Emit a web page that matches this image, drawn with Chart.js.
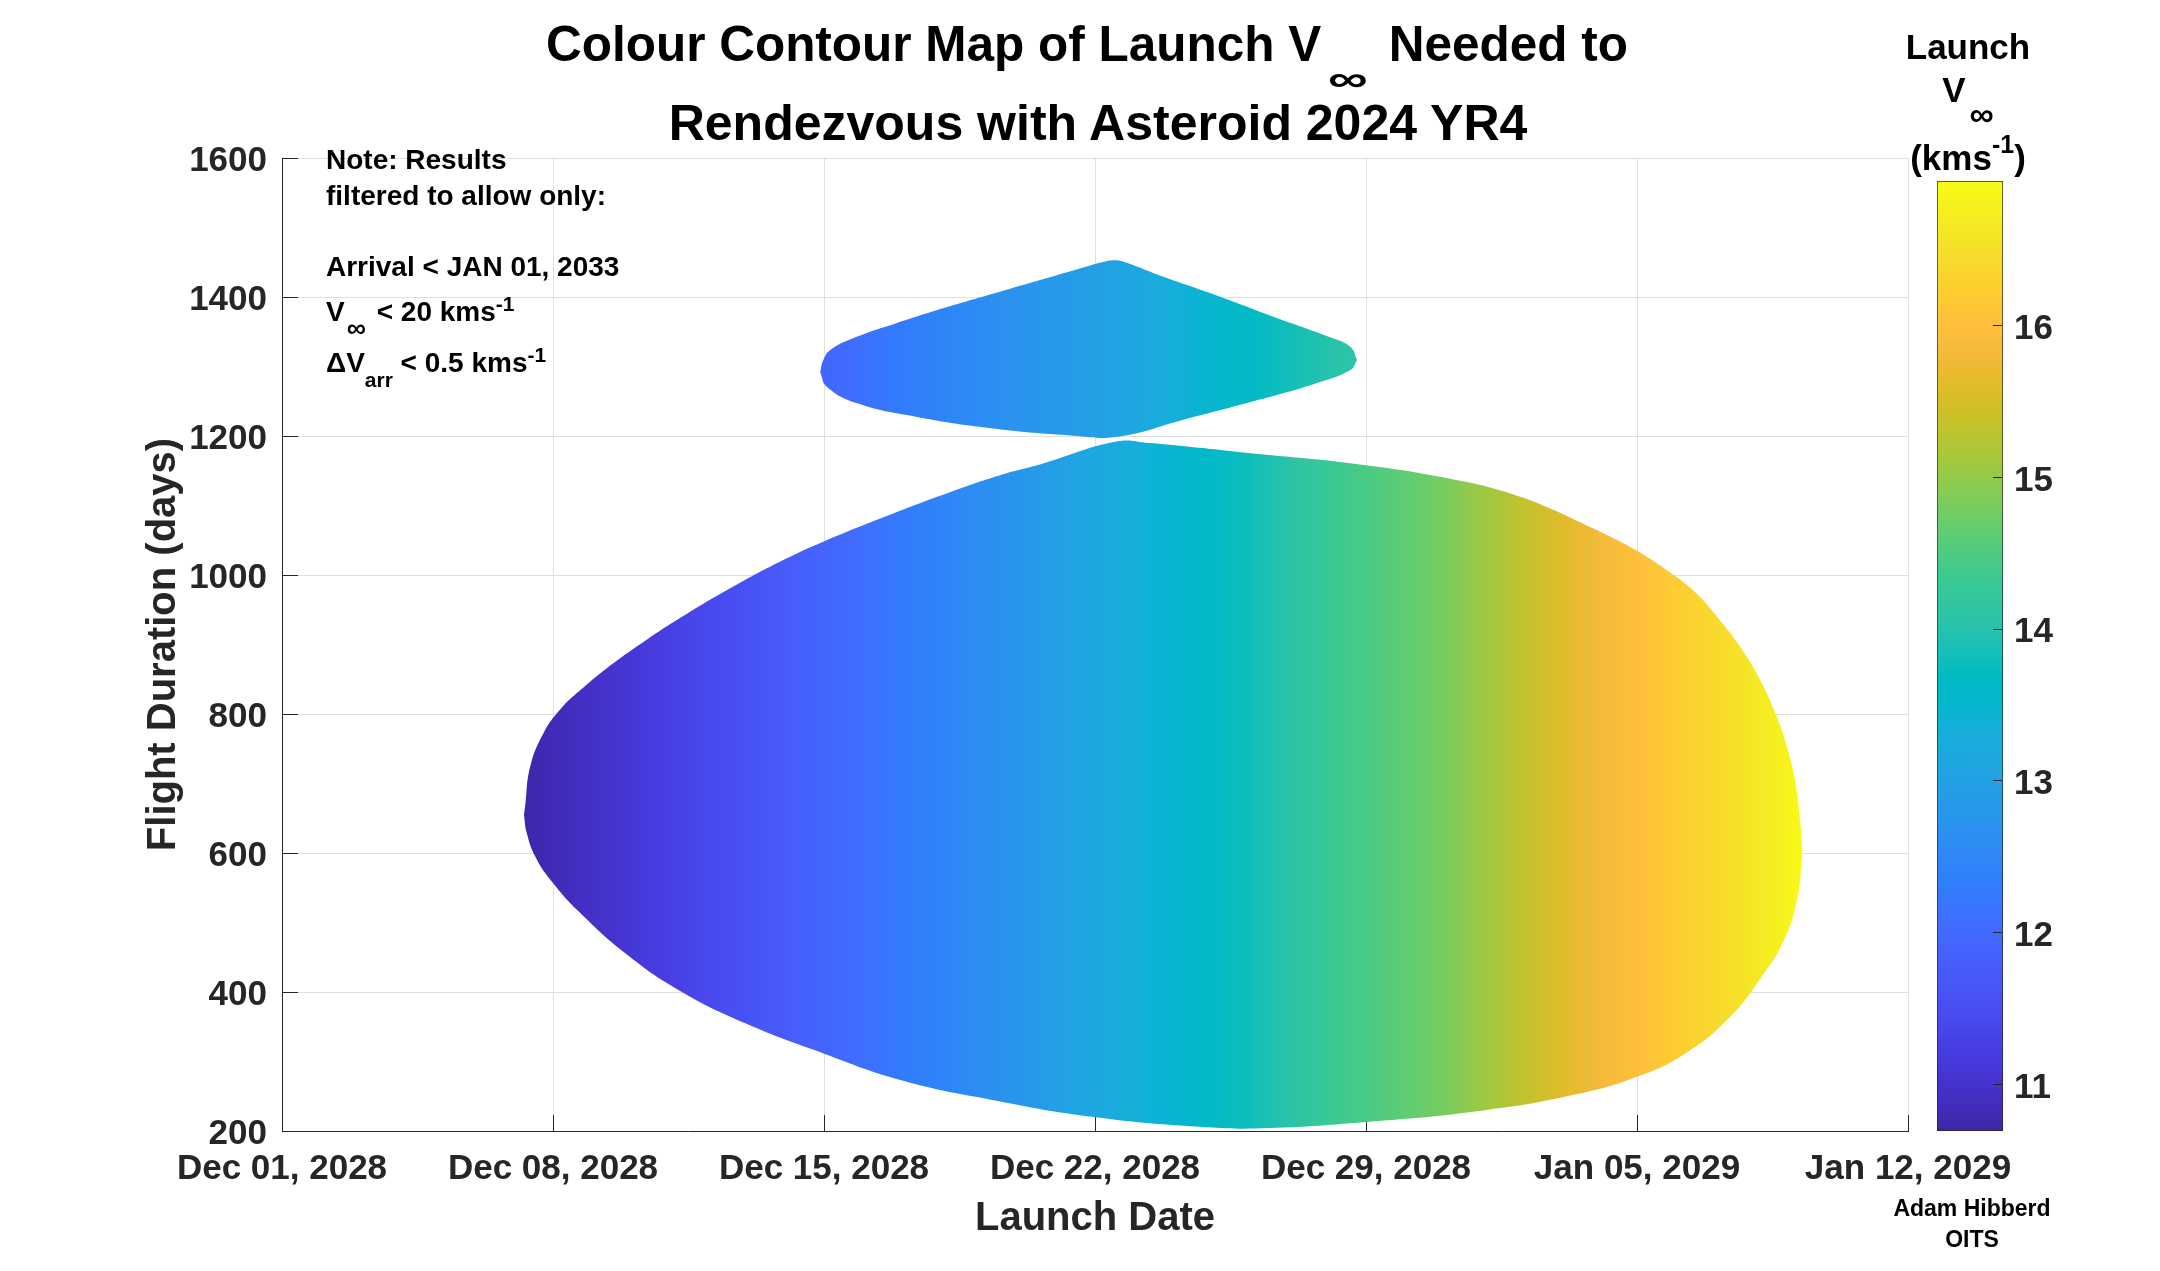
<!DOCTYPE html>
<html><head><meta charset="utf-8">
<script src="https://cdn.jsdelivr.net/npm/chart.js@4.4.1/dist/chart.umd.min.js"></script>
<style>
html,body{margin:0;padding:0;background:#fff;}
body{width:2160px;height:1271px;position:relative;overflow:hidden;font-family:"Liberation Sans",Arial,Helvetica,sans-serif;font-weight:bold;}
.t{position:absolute;white-space:nowrap;line-height:1;color:#000;}
.sub,.sup{position:relative;}
canvas{position:absolute;}
</style></head><body>
<canvas id="main" width="2160" height="1271" style="left:0;top:0"></canvas>
<canvas id="cbar" width="240" height="970" style="left:1920px;top:170px"></canvas>

<div class="t" style="left:487px;width:1200px;text-align:center;top:19px;font-size:49.5px;">Colour Contour Map of Launch V<span class="sub" style="display:inline-block;font-size:36px;top:30px;margin-left:14px;margin-right:14px;transform:scaleX(1.55);">∞</span> Needed to</div>
<div class="t" style="left:498px;width:1200px;text-align:center;top:98px;font-size:50px;">Rendezvous with Asteroid 2024 YR4</div>

<div class="t" style="left:326px;top:146.3px;font-size:28px;">Note: Results</div>
<div class="t" style="left:326px;top:182.3px;font-size:28px;">filtered to allow only:</div>
<div class="t" style="left:326px;top:253.3px;font-size:28px;">Arrival &lt; JAN 01, 2033</div>
<div class="t" style="left:326px;top:298.3px;font-size:28px;">V<span class="sub" style="font-size:27px;top:16px;margin-left:2px;margin-right:3px;">∞</span> &lt; 20 kms<span class="sup" style="font-size:21px;top:-10px;">-1</span></div>
<div class="t" style="left:326px;top:349.3px;font-size:28px;">ΔV<span class="sub" style="font-size:21px;top:15px;">arr</span> &lt; 0.5 kms<span class="sup" style="font-size:21px;top:-10px;">-1</span></div>

<div class="t" style="left:1818px;width:300px;text-align:center;top:29.4px;font-size:35px;">Launch</div>
<div class="t" style="left:1818px;width:300px;text-align:center;top:72.1px;font-size:35px;">V<span class="sub" style="font-size:34px;top:24px;margin-left:4px;">∞</span></div>
<div class="t" style="left:1818px;width:300px;text-align:center;top:140.4px;font-size:35px;">(kms<span class="sup" style="font-size:25px;top:-17px;">-1</span>)</div>

<div class="t" style="left:1822px;width:300px;text-align:center;top:1196.5px;font-size:23px;">Adam Hibberd</div>
<div class="t" style="left:1822px;width:300px;text-align:center;top:1227.5px;font-size:23px;">OITS</div>

<script>
// ---------------- data ----------------
// x values are launch days counted from Dec 01, 2028; y values are flight durations (days)
const xTickLabels = ['Dec 01, 2028','Dec 08, 2028','Dec 15, 2028','Dec 22, 2028','Dec 29, 2028','Jan 05, 2029','Jan 12, 2029'];
const xMin = 0, xMax = 42, xStep = 7;
const yMin = 200, yMax = 1600, yStep = 200;

// main feasible region: upper and lower boundaries
const mainUpperDays = [6.25, 6.28, 6.41, 6.75, 7.18, 7.70, 8.39, 9.42, 10.45, 11.74, 13.04, 13.98, 15.62, 17.34, 18.63, 19.58, 21.55, 22.4, 23.7, 24.7, 28.0, 30.5, 31.81, 32.67, 33.53, 34.39, 35.0, 35.77, 36.45, 37.14, 37.66, 38.18, 38.61, 38.87, 39.08, 39.21, 39.28];
const mainUpperDur  = [655, 667, 724, 772, 806, 834, 866, 907, 944, 986, 1024, 1048, 1085, 1121, 1145, 1159, 1192, 1190, 1183, 1177, 1158, 1135, 1116, 1098, 1076, 1053, 1035, 1007, 978, 935, 897, 849, 796, 753, 705, 648, 600];
const mainLowerDays = [6.25, 6.32, 6.55, 7.0, 7.7, 8.86, 10.24, 11.97, 13.97, 16.0, 18.31, 20.97, 23.7, 25.3, 28.0, 31.07, 33.37, 35.0, 36.26, 37.4, 38.22, 38.8, 39.13, 39.28];
const mainLowerDur  = [655, 629, 594, 557, 514, 456, 403, 355, 312, 273, 245, 220, 206, 204, 213, 230, 252, 278, 312, 364, 422, 475, 532, 600];

// smaller (longer-duration) feasible region
const smallUpperDays = [13.9, 13.98, 14.17, 14.86, 15.85, 17.33, 18.81, 20.3, 21.18, 21.5, 21.78, 22.77, 24.25, 25.73, 27.02, 27.6, 27.77];
const smallUpperDur  = [1292, 1309, 1324, 1343, 1362, 1388, 1412, 1436, 1450, 1453, 1450, 1429, 1400, 1369, 1343, 1328, 1309];
const smallLowerDays = [13.9, 14.07, 14.86, 16.34, 18.32, 20.3, 21.58, 23.26, 25.23, 26.72, 27.6, 27.77];
const smallLowerDur  = [1292, 1271, 1247, 1228, 1211, 1201, 1199, 1223, 1252, 1276, 1295, 1309];

// launch V-infinity (km/s) across launch date
const mainColourDays = [6.25, 7, 8, 9, 10, 11, 12, 13, 14, 15, 16, 17, 18, 19, 20, 21, 22, 23, 24, 25, 26, 27, 28, 29, 30, 31, 32, 33, 34, 35, 36, 37, 38, 39, 39.28];
const mainVinf       = [10.69, 10.8, 10.95, 11.1, 11.25, 11.42, 11.58, 11.75, 11.92, 12.08, 12.25, 12.42, 12.6, 12.75, 12.95, 13.15, 13.32, 13.48, 13.62, 13.8, 14.05, 14.28, 14.46, 14.62, 14.8, 15.05, 15.32, 15.58, 15.8, 15.98, 16.2, 16.4, 16.62, 16.85, 16.95];
const smallColourDays = [13.9, 15, 16, 17, 18, 19, 20, 21, 22, 23, 24, 25, 26, 27, 27.77];
const smallVinf       = [11.9, 12.1, 12.28, 12.43, 12.57, 12.7, 12.83, 12.96, 13.12, 13.3, 13.5, 13.65, 13.82, 14.0, 14.12];

// colour bar
const cbMin = 10.69, cbMax = 16.95;
const cbTicks = [11, 12, 13, 14, 15, 16];

// ---------------- parula colour map ----------------
const parula = [[0.2422,0.1504,0.6603],[0.2504,0.1650,0.7076],[0.2578,0.1818,0.7511],[0.2647,0.1978,0.7952],[0.2706,0.2147,0.8364],[0.2751,0.2342,0.8710],[0.2783,0.2559,0.8991],[0.2803,0.2782,0.9221],[0.2813,0.3006,0.9414],[0.2810,0.3228,0.9579],[0.2795,0.3447,0.9717],[0.2760,0.3667,0.9829],[0.2699,0.3892,0.9906],[0.2602,0.4123,0.9952],[0.2440,0.4358,0.9988],[0.2206,0.4603,0.9973],[0.1963,0.4847,0.9892],[0.1834,0.5074,0.9798],[0.1786,0.5289,0.9682],[0.1764,0.5499,0.9520],[0.1687,0.5703,0.9359],[0.1540,0.5902,0.9218],[0.1460,0.6091,0.9079],[0.1380,0.6276,0.8973],[0.1248,0.6459,0.8883],[0.1113,0.6635,0.8763],[0.0952,0.6798,0.8598],[0.0689,0.6948,0.8394],[0.0297,0.7082,0.8163],[0.0036,0.7203,0.7917],[0.0067,0.7312,0.7660],[0.0433,0.7411,0.7394],[0.0964,0.7500,0.7120],[0.1408,0.7584,0.6842],[0.1717,0.7670,0.6554],[0.1938,0.7758,0.6251],[0.2161,0.7843,0.5923],[0.2470,0.7918,0.5567],[0.2906,0.7973,0.5188],[0.3406,0.8008,0.4789],[0.3909,0.8029,0.4354],[0.4456,0.8024,0.3909],[0.5044,0.7993,0.3480],[0.5616,0.7942,0.3045],[0.6174,0.7876,0.2612],[0.6720,0.7793,0.2227],[0.7242,0.7698,0.1910],[0.7738,0.7598,0.1646],[0.8203,0.7498,0.1535],[0.8634,0.7406,0.1596],[0.9035,0.7330,0.1774],[0.9393,0.7288,0.2100],[0.9728,0.7298,0.2394],[0.9956,0.7434,0.2371],[0.9970,0.7659,0.2199],[0.9952,0.7893,0.2028],[0.9892,0.8136,0.1885],[0.9786,0.8386,0.1766],[0.9676,0.8639,0.1643],[0.9610,0.8890,0.1537],[0.9597,0.9135,0.1423],[0.9628,0.9373,0.1265],[0.9691,0.9606,0.1064],[0.9769,0.9839,0.0805]];
function rgbOf(c){ return 'rgb(' + c.map(k => Math.round(255*k)).join(',') + ')'; }
function parulaColour(v){
  let t = (v - cbMin) / (cbMax - cbMin); t = Math.max(0, Math.min(1, t));
  const f = t * (parula.length - 1);
  const i = Math.min(Math.floor(f), parula.length - 2), u = f - i;
  return rgbOf([0,1,2].map(k => parula[i][k] + (parula[i+1][k] - parula[i][k]) * u));
}
function hGradient(chart, days, vals){
  const xs = chart.scales.x;
  const x0 = xs.getPixelForValue(days[0]), x1 = xs.getPixelForValue(days[days.length-1]);
  const g = chart.ctx.createLinearGradient(x0, 0, x1, 0);
  days.forEach((d, i) => g.addColorStop(Math.max(0, Math.min(1, (xs.getPixelForValue(d) - x0) / (x1 - x0))), parulaColour(vals[i])));
  return g;
}
function pts(xs, ys){ return xs.map((x, i) => ({x: x, y: ys[i]})); }

const FONT = '"Liberation Sans", Arial, Helvetica, sans-serif';
const AXIS = '#262626';

const inwardTicks = {
  id: 'inwardTicks',
  beforeDatasetsDraw(chart){
    const {ctx, chartArea: a, scales: {x, y}} = chart;
    ctx.save(); ctx.strokeStyle = AXIS; ctx.lineWidth = 1; ctx.beginPath();
    x.ticks.forEach(t => { const p = Math.round(x.getPixelForValue(t.value)) + 0.5; ctx.moveTo(p, a.bottom); ctx.lineTo(p, a.bottom - 16); });
    y.ticks.forEach(t => { const p = Math.round(y.getPixelForValue(t.value)) + 0.5; ctx.moveTo(a.left, p); ctx.lineTo(a.left + 16, p); });
    ctx.stroke(); ctx.restore();
  }
};

function region(upX, upY, loX, loY, cDays, cVals){
  const bg = (ctx) => { const c = ctx.chart; if (!c.chartArea || !c.scales.x) return 'rgba(0,0,0,0)'; return hGradient(c, cDays, cVals); };
  return [
    {data: pts(upX, upY), fill: '+1', backgroundColor: bg, borderColor: 'rgba(0,0,0,0)', borderWidth: 0, pointRadius: 0, pointHoverRadius: 0, tension: 0.45},
    {data: pts(loX, loY), fill: false, backgroundColor: 'rgba(0,0,0,0)', borderColor: 'rgba(0,0,0,0)', borderWidth: 0, pointRadius: 0, pointHoverRadius: 0, tension: 0.45}
  ];
}

new Chart(document.getElementById('main'), {
  type: 'line',
  data: { datasets: [
    ...region(mainUpperDays, mainUpperDur, mainLowerDays, mainLowerDur, mainColourDays, mainVinf),
    ...region(smallUpperDays, smallUpperDur, smallLowerDays, smallLowerDur, smallColourDays, smallVinf)
  ]},
  options: {
    responsive: false, devicePixelRatio: 1, animation: false, events: [],
    layout: { padding: { left: 0, right: 252, top: 158, bottom: 0 } },
    plugins: { legend: { display: false }, tooltip: { enabled: false }, title: { display: false } },
    scales: {
      x: {
        type: 'linear', min: xMin, max: xMax,
        afterFit(s){ s.height = 140; s.paddingLeft = 0; s.paddingRight = 0; },
        ticks: { stepSize: xStep, autoSkip: false, maxRotation: 0, padding: 17, color: AXIS,
                 font: { family: FONT, size: 35, weight: 'bold' },
                 callback: (v) => xTickLabels[Math.round((v - xMin) / xStep)] },
        grid: { color: '#dfdfdf', lineWidth: 1, drawTicks: false },
        border: { color: AXIS, width: 1 },
        title: { display: true, text: 'Launch Date', color: AXIS, font: { family: FONT, size: 40, weight: 'bold' }, padding: { top: 0, bottom: 28 } }
      },
      y: {
        type: 'linear', min: yMin, max: yMax,
        afterFit(s){ s.width = 282; s.paddingTop = 0; s.paddingBottom = 0; },
        ticks: { stepSize: yStep, padding: 15, labelOffset: 3, color: AXIS, font: { family: FONT, size: 35, weight: 'bold' },
                 callback: (v) => String(v) },
        grid: { color: '#dfdfdf', lineWidth: 1, drawTicks: false },
        border: { color: AXIS, width: 1 },
        title: { display: true, text: 'Flight Duration (days)', color: AXIS, font: { family: FONT, size: 40, weight: 'bold' }, padding: { top: 140, bottom: 0 } }
      }
    }
  },
  plugins: [inwardTicks]
});

const cbInwardTicks = {
  id: 'cbInwardTicks',
  afterDatasetsDraw(chart){
    const {ctx, chartArea: a, scales: {y}} = chart;
    ctx.save(); ctx.strokeStyle = AXIS; ctx.lineWidth = 1; ctx.beginPath();
    y.ticks.forEach(t => { const p = Math.round(y.getPixelForValue(t.value)) + 0.5; ctx.moveTo(a.right - 1, p); ctx.lineTo(a.right - 10, p); });
    ctx.stroke(); ctx.restore();
  }
};

new Chart(document.getElementById('cbar'), {
  type: 'bar',
  data: { labels: ['Launch V∞'], datasets: [{
    data: [[cbMin, cbMax]],
    backgroundColor: (ctx) => {
      const c = ctx.chart; if (!c.chartArea || !c.scales.y) return 'rgba(0,0,0,0)';
      const ys = c.scales.y;
      const g = c.ctx.createLinearGradient(0, ys.getPixelForValue(cbMin), 0, ys.getPixelForValue(cbMax));
      parula.forEach((col, i) => g.addColorStop(i / (parula.length - 1), rgbOf(col)));
      return g;
    },
    borderColor: AXIS, borderWidth: 1, borderSkipped: false,
    barPercentage: 1, categoryPercentage: 1
  }]},
  options: {
    responsive: false, devicePixelRatio: 1, animation: false, events: [],
    layout: { padding: { left: 17, right: 0, top: 11, bottom: 9 } },
    plugins: { legend: { display: false }, tooltip: { enabled: false } },
    scales: {
      x: { display: false },
      y: {
        position: 'right', min: cbMin, max: cbMax,
        afterBuildTicks(s){ s.ticks = cbTicks.map(v => ({ value: v })); },
        afterFit(s){ s.width = 157; s.paddingTop = 0; s.paddingBottom = 0; },
        ticks: { padding: 11, labelOffset: 4, color: AXIS, font: { family: FONT, size: 35, weight: 'bold' } },
        grid: { display: false, drawTicks: false },
        border: { display: false }
      }
    }
  },
  plugins: [cbInwardTicks]
});
</script>
</body></html>
